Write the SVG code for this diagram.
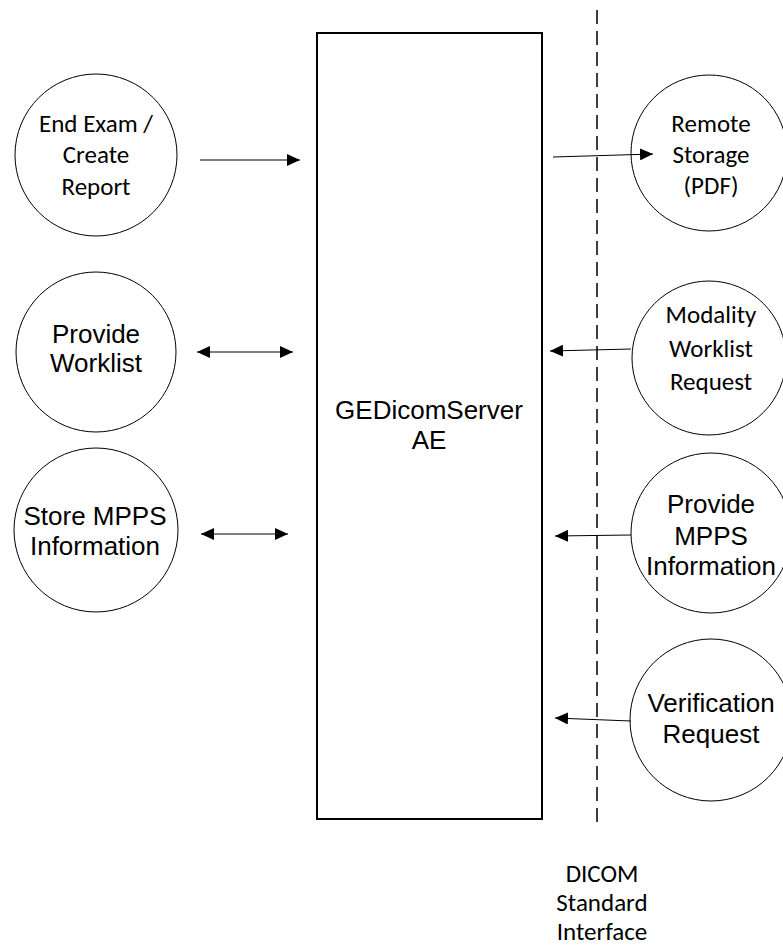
<svg xmlns="http://www.w3.org/2000/svg" width="783" height="948" viewBox="0 0 783 948">
<style>
.bg{fill:#ffffff}
.c{fill:#ffffff;stroke:#000;stroke-width:1}
.box{fill:#ffffff;stroke:#000;stroke-width:2}
.dash{fill:none;stroke:#000;stroke-width:1.5;stroke-dasharray:14 7}
.ln{fill:none;stroke:#000;stroke-width:1}
.a{font-family:"Liberation Sans",Arial,sans-serif;font-size:26px;fill:#000;text-anchor:middle}
.k{font-family:Carlito,Calibri,Lato,"Open Sans",sans-serif;font-size:25px;fill:#000;text-anchor:middle}
</style>
<defs>
<marker id="ah" markerUnits="userSpaceOnUse" markerWidth="14" markerHeight="12" refX="13" refY="6" orient="auto-start-reverse">
<path d="M0,0 L13,6 L0,12 Z" fill="#000"/>
</marker>
</defs>
<rect class="bg" x="0" y="0" width="783" height="948"/>
<g id="dicom-boundary">
<line class="dash" x1="597" y1="10" x2="597" y2="828"/>
<text class="k" x="602" y="882">DICOM</text>
<text class="k" x="602" y="911">Standard</text>
<text class="k" x="602" y="940">Interface</text>
</g>
<g id="ae">
<rect class="box" x="317" y="33" width="225" height="786"/>
<text class="a" x="429" y="419">GEDicomServer</text>
<text class="a" x="429" y="449">AE</text>
</g>
<g id="end-exam">
<circle class="c" cx="96" cy="155" r="81"/>
<text class="k" x="96" y="132">End Exam /</text>
<text class="k" x="96" y="163">Create</text>
<text class="k" x="96" y="195">Report</text>
</g>
<g id="provide-worklist">
<circle class="c" cx="96" cy="352" r="80"/>
<text class="a" x="96" y="343">Provide</text>
<text class="a" x="96" y="372">Worklist</text>
</g>
<g id="store-mpps">
<circle class="c" cx="96" cy="530" r="82"/>
<text class="a" x="95" y="525">Store MPPS</text>
<text class="a" x="95" y="555">Information</text>
</g>
<g id="remote-storage">
<circle class="c" cx="709" cy="153" r="78"/>
<text class="k" x="711" y="132">Remote</text>
<text class="k" x="711" y="163">Storage</text>
<text class="k" x="711" y="194">(PDF)</text>
</g>
<g id="modality-worklist">
<circle class="c" cx="709" cy="358" r="77"/>
<text class="k" x="711" y="323">Modality</text>
<text class="k" x="711" y="357">Worklist</text>
<text class="k" x="711" y="390">Request</text>
</g>
<g id="provide-mpps">
<circle class="c" cx="711" cy="533" r="80"/>
<text class="a" x="711" y="513">Provide</text>
<text class="a" x="711" y="545">MPPS</text>
<text class="a" x="711" y="575">Information</text>
</g>
<g id="verification">
<circle class="c" cx="711" cy="720" r="81"/>
<text class="a" x="711" y="712">Verification</text>
<text class="a" x="711" y="743">Request</text>
</g>
<g id="connectors">
<line class="ln" x1="200" y1="160" x2="300" y2="160" marker-end="url(#ah)"/>
<line class="ln" x1="553" y1="157" x2="653" y2="154" marker-end="url(#ah)"/>
<line class="ln" x1="197" y1="352" x2="293" y2="352" marker-start="url(#ah)" marker-end="url(#ah)"/>
<line class="ln" x1="201" y1="534" x2="288" y2="534" marker-start="url(#ah)" marker-end="url(#ah)"/>
<line class="ln" x1="631" y1="349" x2="550" y2="351" marker-end="url(#ah)"/>
<line class="ln" x1="631" y1="535" x2="555" y2="536" marker-end="url(#ah)"/>
<line class="ln" x1="631" y1="721" x2="555" y2="718" marker-end="url(#ah)"/>
</g>
</svg>
